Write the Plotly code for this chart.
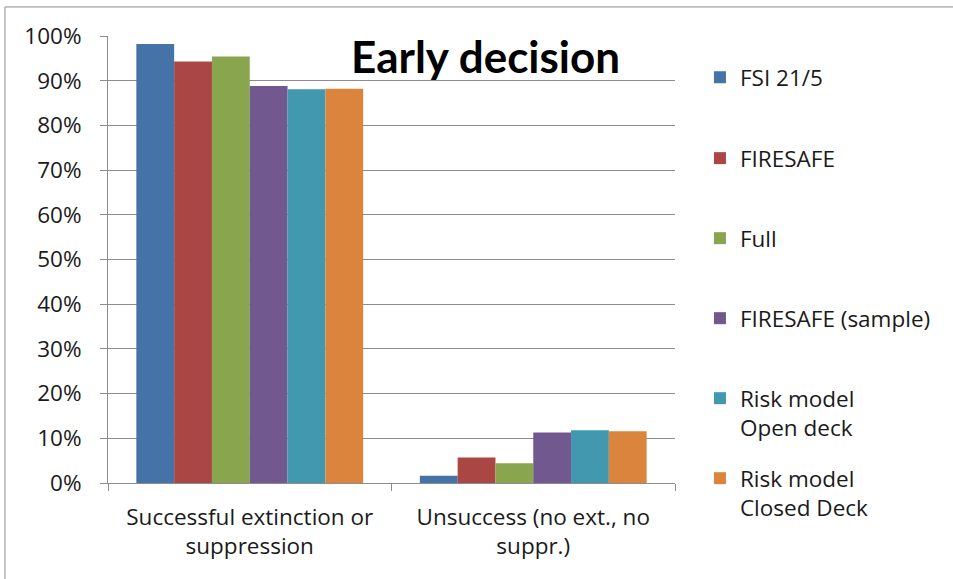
import plotly.graph_objects as go

categories = ["Successful extinction or<br>suppression", "Unsuccess (no ext., no<br>suppr.)"]
series_names = ["FSI 21/5", "FIRESAFE", "Full", "FIRESAFE (sample)",
                "Risk model<br>Open deck", "Risk model<br>Closed Deck"]
fsi = [0.982, 0.016]
firesafe = [0.943, 0.057]
full = [0.954, 0.044]
firesafe_sample = [0.888, 0.113]
risk_open = [0.881, 0.118]
risk_closed = [0.882, 0.116]
series_values = [fsi, firesafe, full, firesafe_sample, risk_open, risk_closed]
colors = ["#4572A7", "#AA4643", "#89A54E", "#71588F", "#4198AF", "#DB843D"]
y_ticks = [0, 0.1, 0.2, 0.3, 0.4, 0.5, 0.6, 0.7, 0.8, 0.9, 1.0]
y_ticklabels = ["0%", "10%", "20%", "30%", "40%", "50%", "60%", "70%", "80%", "90%", "100%"]

FONT = "Open Sans"
TITLE_FONT = "Lato"
FS = 22.5
legend_y = [0.955, 0.774, 0.595, 0.416, 0.237, 0.058]

fig = go.Figure()
for i, (name, vals, col) in enumerate(zip(series_names, series_values, colors)):
    lg = "legend" if i == 0 else f"legend{i+1}"
    fig.add_trace(go.Bar(x=categories, y=vals, name=name, marker=dict(color=col, line=dict(width=0)),
                         legend=lg))

layout_legends = {}
for i, ly in enumerate(legend_y):
    key = "legend" if i == 0 else f"legend{i+1}"
    layout_legends[key] = dict(x=1.044, xanchor="left", y=ly, yanchor="top",
                               font=dict(family=FONT, size=FS, color="#1a1a1a"),
                               bgcolor="rgba(0,0,0,0)", valign="top")

fig.update_layout(
    width=953, height=579,
    margin=dict(l=108, r=278, t=36, b=96),
    paper_bgcolor="white", plot_bgcolor="white",
    barmode="group", bargap=0.2, bargroupgap=0,
    font=dict(family=FONT, size=FS, color="#1a1a1a"),
    showlegend=True,
    **layout_legends,
)
fig.update_yaxes(range=[0, 1], tickvals=y_ticks, ticktext=y_ticklabels,
                 showgrid=True, gridcolor="#8C8C8C", gridwidth=1,
                 showline=True, linecolor="#8C8C8C", linewidth=1,
                 ticks="outside", ticklen=7, tickcolor="#8C8C8C", ticklabelstandoff=14,
                 tickfont=dict(family=FONT, size=FS, color="#1a1a1a"), zeroline=False)
fig.update_xaxes(showline=True, linecolor="#8C8C8C", linewidth=1,
                 ticks="outside", ticklen=7, tickcolor="#8C8C8C", tickson="boundaries",
                 ticklabelstandoff=14,
                 tickfont=dict(family=FONT, size=FS, color="#1a1a1a"))

fig.add_annotation(text="<b>Early decision</b>", xref="paper", yref="paper",
                   x=0.665, y=0.955, xanchor="center", yanchor="middle", showarrow=False,
                   font=dict(family=TITLE_FONT, size=44, color="#000000"))

fig.add_shape(type="rect", xref="paper", yref="paper", x0=-0.1817, x1=1.5026, y0=-0.24, y1=1.065,
              line=dict(color="#8C8C8C", width=1), fillcolor="rgba(0,0,0,0)", layer="below")

fig.write_html("out.html", config={"displayModeBar": False},
               post_script="document.body.style.margin='0';")
